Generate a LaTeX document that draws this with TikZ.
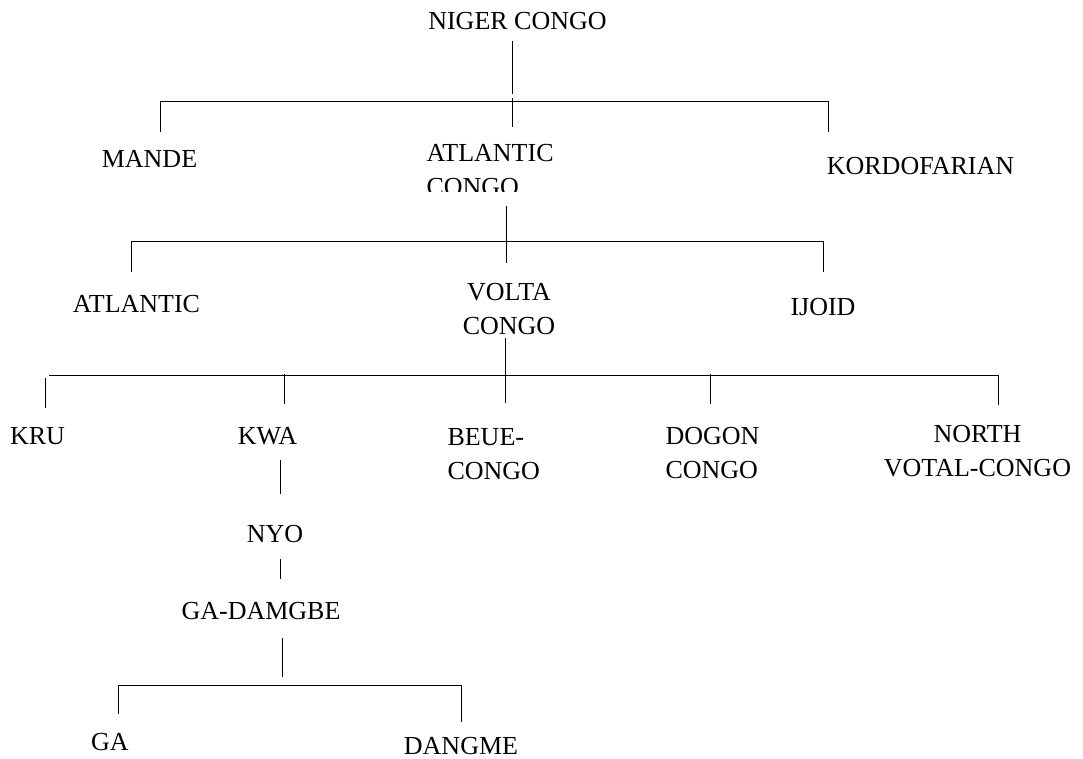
\documentclass[tikz,border=0pt]{standalone}
\usepackage{fontspec}
\setmainfont{Liberation Serif}

\begin{document}
\begin{tikzpicture}[x=0.75pt, y=-0.75pt, line width=0.75pt,
  lang/.style={inner sep=0pt, anchor=north, font=\fontsize{19.5}{25.5}\selectfont}]
  \useasboundingbox (0,0) rectangle (1083,759);

  % language names
  \node[lang] (niger) at (517.5,12) {NIGER CONGO};
  \node[lang] (mande) at (149.5,150) {MANDE};
  \begin{scope}
    \clip (0,0) rectangle (1083,192);
    \node[lang, anchor=north west, align=left] (atlcongo) at (426,144) {ATLANTIC\\CONGO};
  \end{scope}
  \node[lang] (kordo) at (920.5,157) {KORDOFARIAN};

  \node[lang] (atlantic) at (136.5,295) {ATLANTIC};
  \node[lang, align=center] (volta) at (509,283) {VOLTA\\CONGO};
  \node[lang] (ijoid) at (823,298) {IJOID};

  \node[lang] (kru) at (37.5,427) {KRU};
  \node[lang] (kwa) at (267.5,427) {KWA};
  \node[lang, anchor=north west, align=left] (beue) at (447,428) {BEUE-\\CONGO};
  \node[lang, anchor=north west, align=left] (dogon) at (665,427) {DOGON\\CONGO};
  \node[lang, align=center] (north) at (977.5,425) {NORTH\\VOTAL-CONGO};

  \node[lang] (nyo) at (275,525) {NYO};
  \node[lang] (gadamgbe) at (261,602) {GA-DAMGBE};
  \node[lang] (ga) at (110,733) {GA};
  \node[lang] (dangme) at (461,737) {DANGME};

  % niger congo split
  \coordinate (b1l) at (160,101.7);
  \coordinate (b1m) at (512,101.7);
  \coordinate (b1r) at (828,101.7);
  \draw (b1m) ++(0,-60.7) -- ++(0,53);
  \draw (b1m) ++(0,-3.7) -- ++(0,29);
  \draw (b1l) ++(0,30) -- (b1l) -- (b1r) -- ++(0,30);

  % atlantic congo split
  \coordinate (b2l) at (131.7,242);
  \coordinate (b2m) at (506,242);
  \coordinate (b2r) at (823,242);
  \draw (b2m) ++(0,-36) -- ++(0,57);
  \draw (b2l) ++(0,30) -- (b2l) -- (b2r) -- ++(0,30);

  % volta congo split
  \coordinate (b3l) at (49,376);
  \coordinate (b3m) at (505.7,376);
  \coordinate (b3r) at (998,376);
  \coordinate (kru-up) at (45,378);
  \coordinate (kwa-up) at (284,374);
  \coordinate (dogon-up) at (710.7,374);
  \draw (b3m) ++(0,-38) -- ++(0,65);
  \draw (b3l) -- (b3r) -- ++(0,29);
  \draw (kru-up) -- ++(0,30);
  \draw (kwa-up) -- ++(0,30);
  \draw (dogon-up) -- ++(0,30);

  % kwa down to ga-damgbe
  \coordinate (kwa-dn) at (280,460);
  \coordinate (nyo-dn) at (280,559);
  \draw (kwa-dn) -- ++(0,34);
  \draw (nyo-dn) -- ++(0,20);

  % ga-damgbe split
  \coordinate (b5l) at (118,685.7);
  \coordinate (b5m) at (282,685.7);
  \coordinate (b5r) at (461,685.7);
  \draw (b5m) ++(0,-47.7) -- ++(0,39);
  \draw (b5l) ++(0,28) -- (b5l) -- (b5r) -- ++(0,36);
\end{tikzpicture}
\end{document}
